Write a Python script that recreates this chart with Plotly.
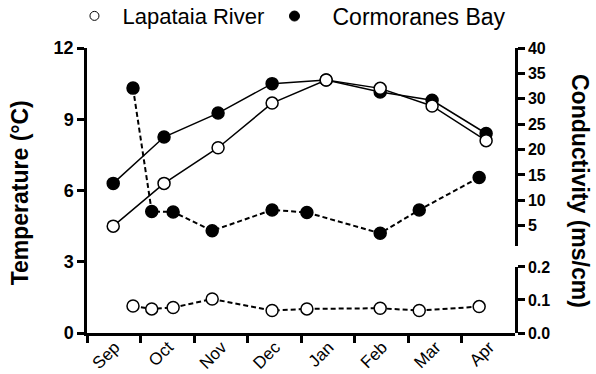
import plotly.graph_objects as go

# ---- data ----
months = ["Sep", "Oct", "Nov", "Dec", "Jan", "Feb", "Mar", "Apr"]
month_pos = [0.5, 1.5, 2.5, 3.5, 4.5, 5.5, 6.5, 7.5]
month_bounds = [0, 1, 2, 3, 4, 5, 6, 7]

temp_x = [0.49, 1.44, 2.45, 3.46, 4.47, 5.48, 6.45, 7.46]
temp_lapataia = [4.5, 6.3, 7.8, 9.68, 10.65, 10.3, 9.56, 8.1]
temp_cormoranes = [6.3, 8.25, 9.26, 10.5, 10.65, 10.15, 9.8, 8.4]

cond_x = [0.86, 1.21, 1.61, 2.34, 3.46, 4.11, 5.48, 6.21, 7.33]
cond_cormoranes = [32.1, 7.8, 7.7, 4.0, 8.1, 7.6, 3.5, 8.1, 14.5]
cond_lapataia = [0.082, 0.073, 0.077, 0.103, 0.068, 0.073, 0.075, 0.068, 0.080]

temp_ticks = [0, 3, 6, 9, 12]
cond_hi_ticks = [5, 10, 15, 20, 25, 30, 35, 40]
cond_lo_ticks = [0.0, 0.1, 0.2]

FONT = "Arial, Liberation Sans, sans-serif"
BLACK = "black"

fig = go.Figure()

open_marker = dict(symbol="circle", size=12, color="white", line=dict(color=BLACK, width=1.5))
fill_marker = dict(symbol="circle", size=12, color=BLACK, line=dict(color=BLACK, width=1.5))

# conductivity, upper segment
fig.add_trace(go.Scatter(x=cond_x, y=cond_cormoranes, mode="lines+markers",
                         line=dict(color=BLACK, width=2, dash="5px,3px"), marker=fill_marker,
                         showlegend=False, xaxis="x", yaxis="y2"))
# conductivity, lower segment
fig.add_trace(go.Scatter(x=cond_x, y=cond_lapataia, mode="lines+markers",
                         line=dict(color=BLACK, width=2, dash="5px,3px"), marker=open_marker,
                         showlegend=False, xaxis="x", yaxis="y3"))
# temperature (left axis)
fig.add_trace(go.Scatter(x=temp_x, y=temp_cormoranes, mode="lines+markers",
                         line=dict(color=BLACK, width=1.5), marker=fill_marker,
                         showlegend=False, xaxis="x", yaxis="y"))
fig.add_trace(go.Scatter(x=temp_x, y=temp_lapataia, mode="lines+markers",
                         line=dict(color=BLACK, width=1.5), marker=open_marker,
                         showlegend=False, xaxis="x", yaxis="y"))

# empty traces to host label axis and break caps
fig.add_trace(go.Scatter(x=[None], y=[None], xaxis="x2", yaxis="y", showlegend=False, hoverinfo="skip"))
fig.add_trace(go.Scatter(x=[None], y=[None], xaxis="x", yaxis="y4", showlegend=False, hoverinfo="skip"))
fig.add_trace(go.Scatter(x=[None], y=[None], xaxis="x", yaxis="y5", showlegend=False, hoverinfo="skip"))

# legend entries
fig.add_trace(go.Scatter(x=[None], y=[None], mode="markers", name="Lapataia River",
                         marker=dict(symbol="circle", size=9, color="white", line=dict(color=BLACK, width=1)),
                         legend="legend", xaxis="x", yaxis="y"))
fig.add_trace(go.Scatter(x=[None], y=[None], mode="markers", name="Cormoranes Bay",
                         marker=dict(symbol="circle", size=10, color=BLACK, line=dict(color=BLACK, width=1)),
                         legend="legend2", xaxis="x", yaxis="y"))

axis_common = dict(showgrid=False, zeroline=False, showline=True, linecolor=BLACK, linewidth=2.5,
                   ticks="outside", ticklen=7, tickwidth=2.5, tickcolor=BLACK, automargin=False)

LO_TOP = 0.2316
HI_BOT = 0.3053

fig.update_layout(
    width=596, height=374,
    margin=dict(l=87, r=81, t=48, b=41, autoexpand=False),
    paper_bgcolor="white", plot_bgcolor="rgba(0,0,0,0)",
    font=dict(family=FONT, color=BLACK),
    xaxis=dict(range=[0, 8], tickvals=month_bounds, showticklabels=False, **axis_common),
    xaxis2=dict(range=[0, 8], overlaying="x", anchor="y", side="bottom",
                tickvals=month_pos, ticktext=months, tickangle=-45, ticks="",
                showline=False, showgrid=False, zeroline=False, automargin=False,
                tickfont=dict(family=FONT, size=17, color=BLACK),
                ticklabelshift=1, ticklabelstandoff=0),
    yaxis=dict(range=[0, 12], tickvals=temp_ticks, anchor="x", domain=[0, 1],
               tickfont=dict(family=FONT, size=18, color=BLACK, weight="bold"), **axis_common),
    yaxis2=dict(range=[1, 40], tickvals=cond_hi_ticks, anchor="x", side="right", domain=[HI_BOT, 1],
                tickfont=dict(family=FONT, size=16, color=BLACK, weight="bold"), **axis_common),
    yaxis3=dict(range=[0, 0.2], tickvals=cond_lo_ticks, tickformat=".1f", anchor="x", side="right",
                domain=[0, LO_TOP],
                tickfont=dict(family=FONT, size=16, color=BLACK, weight="bold"), **axis_common),
    yaxis4=dict(range=[1, 40], overlaying="y2", anchor="x", side="right", tickvals=[1],
                showticklabels=False, showline=False, showgrid=False, zeroline=False,
                ticks="inside", ticklen=7, tickwidth=2.5, tickcolor=BLACK),
    yaxis5=dict(range=[0, 0.2], overlaying="y3", anchor="x", side="right", tickvals=[0.2],
                showticklabels=False, showline=False, showgrid=False, zeroline=False,
                ticks="inside", ticklen=7, tickwidth=2.5, tickcolor=BLACK),
    legend=dict(x=-0.048, xanchor="left", y=1.112, yanchor="middle", orientation="h",
                font=dict(family=FONT, size=22, color=BLACK), bgcolor="rgba(0,0,0,0)",
                itemwidth=46),
    legend2=dict(x=0.396, xanchor="left", y=1.112, yanchor="middle", orientation="h",
                 font=dict(family=FONT, size=23, color=BLACK), bgcolor="rgba(0,0,0,0)",
                 itemwidth=66),
    annotations=[
        dict(text="Temperature (°C)", xref="paper", yref="paper", x=-0.1565, y=0.49,
             textangle=-90, showarrow=False, xanchor="center", yanchor="middle",
             font=dict(family=FONT, size=23, color=BLACK, weight="bold")),
        dict(text="Conductivity (ms/cm)", xref="paper", yref="paper", x=1.152, y=0.498,
             textangle=90, showarrow=False, xanchor="center", yanchor="middle",
             font=dict(family=FONT, size=23, color=BLACK, weight="bold")),
    ],
)

fig.write_html("out.html")
